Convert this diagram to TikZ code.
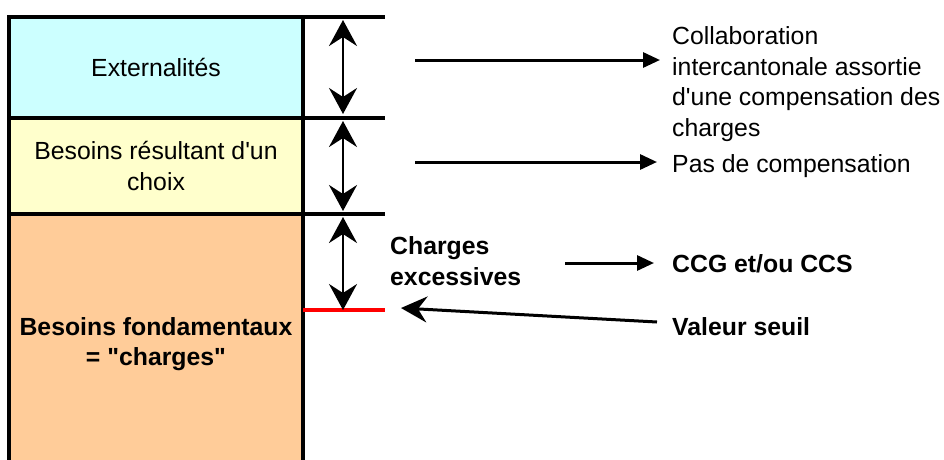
\documentclass[tikz,border=0pt]{standalone}
\usepackage{fontspec}
\setmainfont{Liberation Sans}[Ligatures=TeXOff]
\usepackage[dvipsnames]{xcolor}
\usetikzlibrary{arrows.meta}
\definecolor{boxExtern}{HTML}{ccffff}
\definecolor{boxChoice}{HTML}{ffffcc}
\definecolor{boxBasic}{HTML}{ffcc99}
\definecolor{lineSeuil}{HTML}{ff0000}
\tikzset{
    levelBox/.style={minimum width=294pt, inner sep=0pt, align=center, font=\fontsize{24.8}{30.5}\selectfont},
    sideText/.style={anchor=west, inner sep=0pt, align=left, font=\fontsize{24.8}{30.5}\selectfont},
    frameLine/.style={line width=3.5pt},
    levelArrow/.style={line width=2.5pt, {Stealth[length=26pt, width=28pt, inset=9pt]}-{Stealth[length=26pt, width=28pt, inset=9pt]}},
    outArrow/.style={line width=3pt, -{Triangle[length=17pt, width=15pt]}}
}

\begin{document}
\begin{tikzpicture}[x=1pt, y=-1pt]
            \useasboundingbox (0,0) rectangle (944,459);
            % levels
            \node[levelBox, fill=boxExtern, minimum height=101pt] (extern) at (156,67.5) {Externalités};
            \node[levelBox, fill=boxChoice, minimum height=96pt] (choix) at (156,166) {Besoins résultant d'un\\choix};
            \node[levelBox, fill=boxBasic, minimum height=260pt] (fond) at (156,344) {\bfseries Besoins fondamentaux\\\bfseries = "charges"};
            % frame
            \coordinate (t0) at (9,17);
            \coordinate (t1) at (385,17);
            \coordinate (m0) at (9,118);
            \coordinate (m1) at (385,118);
            \coordinate (b0) at (9,214);
            \coordinate (b1) at (385,214);
            \draw[frameLine] (9,15.3) -- (9,470);
            \draw[frameLine] (303,15.3) -- (303,470);
            \draw[frameLine] (t0) -- (t1) (m0) -- (m1) (b0) -- (b1);
            \coordinate (s0) at (303,310);
            \coordinate (s1) at (385,310);
            \draw[line width=4pt, lineSeuil] (s0) -- (s1);
            % level heights
            \draw[levelArrow] (343,20) -- (343,114);
            \draw[levelArrow] (343,121) -- (343,211);
            \draw[levelArrow] (343,217) -- (343,310);
            % consequences
            \node[sideText] (collab) at (672,84) {Collaboration\\intercantonale assortie\\d'une compensation des\\charges};
            \node[sideText] (pas) at (672,166) {Pas de compensation};
            \node[sideText, font=\fontsize{24.8}{30.5}\selectfont\bfseries] (excess) at (390,261) {Charges\\excessives};
            \node[sideText, font=\fontsize{24.8}{30.5}\selectfont\bfseries] (ccg) at (672,264) {CCG et/ou CCS};
            \node[sideText, font=\fontsize{24.8}{30.5}\selectfont\bfseries] (seuil) at (672,327) {Valeur seuil};
            \coordinate (a1) at (415,60);
            \coordinate (a2) at (415,162);
            \coordinate (a3) at (565,263);
            \draw[outArrow] (a1) -- (660,60);
            \draw[outArrow] (a2) -- (657,162);
            \draw[outArrow] (a3) -- (654,263);
            \draw[line width=3pt, -{Stealth[length=26pt, width=26pt, inset=9pt]}] (657,322) -- (401,308);
        \end{tikzpicture}
\end{document}
